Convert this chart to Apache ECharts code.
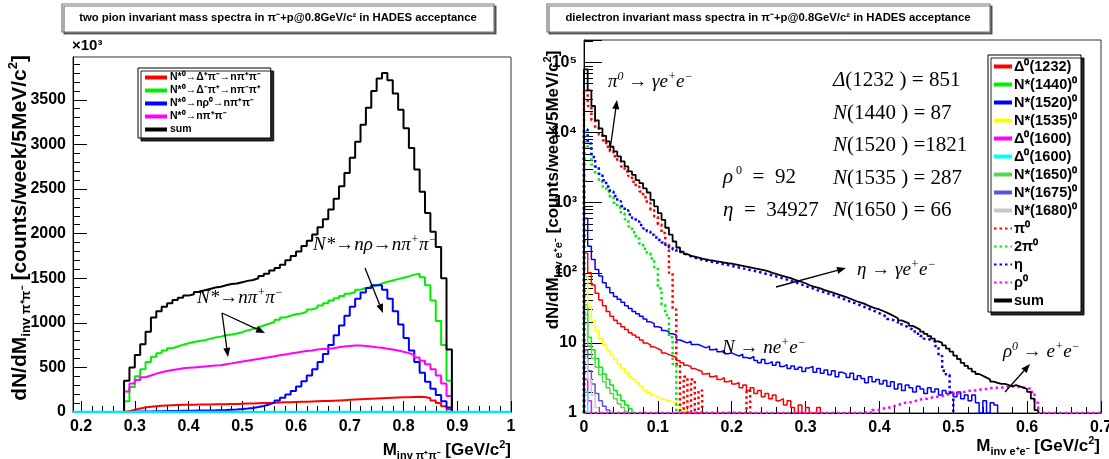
<!DOCTYPE html>
<html>
<head>
<meta charset="utf-8">
<script src="https://cdn.jsdelivr.net/npm/echarts@6/dist/echarts.min.js"></script>
<style>
  html, body { margin: 0; padding: 0; background: #fff; }
  #c { width: 1109px; height: 459px; }
</style>
</head>
<body>
<div id="c"></div>
<script>
// ---------------- two pion invariant mass (counts x10^3 per bin) ----------------
// 10 MeV bins, first bin starts at 0.28 GeV/c^2
const pipiStart = 0.28;
const pipiBin = 0.01;
const pipiDeltaPlus = [10,25,40,50,58,64,70,74,77,79, 80,81,82,83,84,85,86,87,88,89,
  90,92,94,96,98,100,102,104,106,108, 110,112,114,116,118,120,122,124,127,130,
  133,136,139,142,145,148,151,154,157,160, 162,164,166,168,170,168,155,130,100,65, 30];
const pipiDeltaMinus = [120,280,400,480,560,620,660,690,715,735, 755,770,785,795,805,820,835,845,860,870,
  880,895,915,930,950,970,990,1010,1035,1060, 1080,1095,1105,1125,1150,1170,1195,1220,1250,1275,
  1300,1325,1345,1370,1390,1400,1420,1440,1460,1475, 1490,1505,1520,1540,1550,1510,1420,1250,1020,750, 350];
const pipiRho = [0,3,5,6,7,8,9,10,11,12, 13,14,15,16,17,18,19,21,23,26,
  29,33,38,45,55,68,85,105,130,160, 195,235,285,345,410,480,560,650,750,860,
  970,1080,1180,1270,1340,1390,1420,1420,1370,1270, 1130,980,830,690,560,440,340,260,190,120, 50];
const pipiDirect = [230,320,360,390,410,430,445,460,470,480, 490,495,500,505,510,515,520,525,535,545,
  555,565,575,585,595,605,615,625,635,645, 655,665,675,685,690,700,705,710,715,725,
  735,740,745,745,740,735,725,720,710,700, 690,675,660,640,610,575,535,480,410,320, 180];
const pipiSum = [350,500,640,760,900,1060,1130,1180,1220,1255, 1280,1305,1320,1345,1365,1380,1395,1405,1420,1435,
  1440,1455,1470,1480,1500,1525,1550,1585,1615,1650, 1700,1750,1800,1860,1920,1990,2070,2160,2270,2390,
  2530,2680,2850,3030,3220,3410,3600,3740,3800,3720, 3570,3390,3180,2960,2720,2470,2230,2020,1850,1500, 700];
// empty histogram lying on the baseline over the full range
const pipiEmptyEdges = [0.185, 1.0];
const pipiEmptyValues = [0, 0];

const pipiKeys = ['pp_dp', 'pp_dm', 'pp_rho', 'pp_dir', 'pp_sum'];
const pipiLabels = ['N*⁰→Δ⁺π⁻→nπ⁺π⁻', 'N*⁰→Δ⁻π⁺→nπ⁻π⁺', 'N*⁰→nρ⁰→nπ⁺π⁻', 'N*⁰→nπ⁺π⁻', 'sum'];
const pipiColors = ['#ff0000', '#00ee00', '#0000ff', '#ff00ff', '#000000'];

const pipiXTicks = [0.2, 0.3, 0.4, 0.5, 0.6, 0.7, 0.8, 0.9, 1.0];
const pipiXTickLabels = ['0.2', '0.3', '0.4', '0.5', '0.6', '0.7', '0.8', '0.9', '1'];
const pipiYTicks = [0, 500, 1000, 1500, 2000, 2500, 3000, 3500];
const pipiYTickLabels = ['0', '500', '1000', '1500', '2000', '2500', '3000', '3500'];

// ---------------- dielectron invariant mass (counts per 5 MeV bin) ----------------
const eeStart = 0;
const eeBin = 0.005;
const eeD1232 = [190,100,67,51,41,34,28,24,21,19, 17,15.5,14,13,12,11,10,9.4,8.8,8.3,
  7.8,7.2,6.8,6.5,6.2,5.6,5.2,4.8,4.6,4.3, 4.1,3.9,3.6,3.7,3.3,3.4,3.0,3.2,2.8,2.9,
  2.6,2.7,2.3,2.5,2.1,2.3,1.9,2.1,1.7,1.9, 1.6,1.8,1.5,1.6,1.3,1.5,1.2,1.0,1.3,1.0, 1.2,1.0,1.0,1.2,1.0];
const eeN1440 = [35,12,8,6,4.5,3.6,3.0,2.5,2.1,1.8,1.5,1.3,1.15];
const eeN1520 = [600,240,155,112,90,72,62,52,46,42, 38,34,31,28,26,24,22,20,19,17,
  16.5,15,14.5,13.5,13,11,10.5,10,10.5,9.5, 9.5,9,8.5,9,8,8.2,7.5,7.8,7,7.2,
  6.8,6.5,6.9,6.2,6,6.4,5.6,5.2,5.8,5.1, 5.4,4.8,5.3,4.6,4.9,4.3,4.7,4.2,4.5,3.9,
  4.4,4.6,3.8,4.3,3.7,4.1,3.5,4.0,3.3,3.8, 3.6,3.2,3.7,3.0,3.4,3.1,2.7,3.3,2.8,3.0,
  2.6,2.9,2.4,2.8,2.2,2.6,2.1,2.5,2.3,2.0, 2.4,2.2,1.9,2.3,2.0,2.2,1.8,2.1,1.9,2.0,
  1.7,2.0,1.6,1.8,1.5,1.8,1.4,1.0,1.5,1.0, 1.4,1.3];
const eeN1535 = [90,33,21,15,11.5,9.5,8,6.8,5.8,5.0, 4.3,3.8,3.3,3.0,2.7,2.4,2.1,1.95,1.8,1.7,
  1.6,1.55,1.5,1.45,1.4,1.3,1.2,1.1];
const eeD1600a = [3,1.5];
const eeD1600b = [2];
const eeN1650 = [25,9,6,4.5,3.5,2.8,2.3,1.9,1.6,1.35,1.2,1.05];
const eeN1675 = [8,4,2.6,1.9,1.5,1.25,1.1];
const eeN1680 = [6,3,1.8,1.2];
const eePi0 = [40000,24000,15000,11500,9400,7800,6300,5400,4600,3900, 3300,2800,2400,2000,1700,1450,1200,1000,790,630,
  490,370,260,100,30,5,0,3.3,0,3.0, 0,2.1,0,0,0,0,0,0,0,0, 0,0,0,0,2.1];
const ee2Pi0 = [11000,6000,3500,2600,2000,1700,1450,1200,1000,850, 700,580,460,380,310,260,220,190,160,120,
  60,35,25,12,5];
const eeEta = [11000,7000,4500,3300,2600,2100,1700,1450,1250,1050, 900,780,680,600,540,480,430,390,350,320,
  295,270,250,230,215,200,190,180,172,165, 160,154,150,146,142,139,136,132,129,126,
  122,119,116,113,110,107,104,101,98,95, 92,89,86,83,80,77,74,71,68,65,
  62,60,57,55,53,51,49,47,45,43, 41,39,37.5,36,34,32.5,31,29.5,28,26.5,
  25,23.5,22,21,20,18.5,17.5,16.5,15.5,14.5, 13.5,12.5,11.5,11,10.5,9,6.5,4,3.5,2];
const eeRho0 = [0,0,0,0,0,0,0,0,0,0, 0,0,0,0,0,0,0,0,0,0,
  0,0,0,0,0,0,0,0,0,0, 0,0,0,0,0,0,0,0,0,0,
  0,0,0,0,0,0,0,0,0,0, 0,0,0,0,0,0,0,0,0,0,
  0,0,0,0,0,0,0,0,0,0, 0,0,0,0,0,0,
  1.05,1.0,1.1,1.1,1.15,1.2,1.2,1.25,1.3,1.35, 1.4,1.4,1.45,1.5,1.55,1.6,1.6,1.65,1.7,1.7,
  1.75,1.8,1.85,1.9,1.9,1.95,2.0,2.05,2.1,2.1, 2.15,2.2,2.2,2.25,2.3,2.3,2.3,2.35,2.35,2.4,
  2.4,2.35,2.3,2.3,2.2,2.0,1.4,
  0,0,0,0,0,0,0,0,0,0, 0,0,0,0,0,0,0];
const eeSum = [80000,40000,24000,15000,11500,9000,7500,6300,5400,4600,
  3900,3300,2800,2500,2100,1900,1600,1400,1100,890, 710,570,440,350,280,230,200,185,175,170,
  165,160,156,152,149,146,143,140,137,135, 132,129,126,123,120,117,114,111,108,105,
  100,97,93,90,87,84,80,77,74,71, 67,64,62,60,57,55,53,51,49,47,
  45,43,41,39,37.5,36,34,32.5,31,30, 28.5,27,25.5,24,22.5,21,20,19,17.5,16.5,
  15.5,14.5,13.5,12.5,11.5,10.5,10,9.2,8.3,7.5, 6.6,5.9,5.2,4.7,4.3,3.9,3.6,3.4,3.2,3.0,
  2.8,2.7,2.6,2.6,2.5,2.4,2.5,2.4,2.3,2.2, 2.0,1.6,1.1];

const eeKeys = ['d1232', 'n1440', 'n1520', 'n1535', 'd1600a', 'd1600b', 'n1650', 'n1675', 'n1680', 'pi0', 'twopi0', 'eta', 'rho0', 'ee_sum'];
const eeLabels = ['Δ⁰(1232)', 'N*(1440)⁰', 'N*(1520)⁰', 'N*(1535)⁰', 'Δ⁰(1600)', 'Δ⁰(1600)', 'N*(1650)⁰', 'N*(1675)⁰', 'N*(1680)⁰', 'π⁰', '2π⁰', 'η', 'ρ⁰', 'sum'];
const eeValues = [eeD1232, eeN1440, eeN1520, eeN1535, eeD1600a, eeD1600b, eeN1650, eeN1675, eeN1680, eePi0, ee2Pi0, eeEta, eeRho0, eeSum];
const eeColors = ['#ff0000', '#00ee00', '#0000ff', '#ffff00', '#ff00ff', '#00ffff', '#59d454', '#5954d9', '#c8c8c8', '#ff0000', '#00ee00', '#0000ff', '#ff00ff', '#000000'];
const eeDotted = [false, false, false, false, false, false, false, false, false, true, true, true, true, false];

const eeXTicks = [0, 0.1, 0.2, 0.3, 0.4, 0.5, 0.6, 0.7];
const eeXTickLabels = ['0', '0.1', '0.2', '0.3', '0.4', '0.5', '0.6', '0.7'];
const eeYTickLabels = ['1', '10', '10²', '10³', '10⁴', '10⁵'];

// ---------------- helpers ----------------
const SANS = '"Liberation Sans", Arial, Helvetica, sans-serif';
const SERIF = '"Liberation Serif", "Times New Roman", serif';

// histogram outline: each bin is held flat, with drops to the floor at both ends
function histPoints(start, width, values, floor) {
  const pts = [[start, floor]];
  values.forEach(function (v, i) {
    pts.push([+(start + i * width).toFixed(5), Math.max(v, floor)]);
  });
  pts.push([+(start + values.length * width).toFixed(5), floor]);
  return pts;
}
function minorBetween(majors, step, lo, hi) {
  const out = [];
  for (let v = lo; v <= hi + 1e-9; v += step) {
    const r = +v.toFixed(5);
    if (!majors.some(function (m) { return Math.abs(m - r) < 1e-7; })) out.push(r);
  }
  return out;
}
function labelFor(values, labels) {
  return function (v) {
    const i = values.findIndex(function (t) { return Math.abs(t - v) < 1e-7; });
    return i < 0 ? '' : labels[i];
  };
}

const labelOf = {};
pipiKeys.forEach(function (k, i) { labelOf[k] = pipiLabels[i]; });
eeKeys.forEach(function (k, i) { labelOf[k] = eeLabels[i]; });

const X_MIN_L = 0.185, X_MAX_L = 1.0, Y_MAX_L = 3980;
const X_MIN_R = 0, X_MAX_R = 0.7, Y_MIN_R = 1, Y_MAX_R = 210000;

const pipiXMinor = minorBetween(pipiXTicks, 0.02, 0.2, 1.0);
const pipiYMinor = minorBetween(pipiYTicks, 100, 0, 3900);
const eeXMinor = minorBetween(eeXTicks, 0.02, 0, 0.7);
// minor ticks of the log axis, in decades (linear helper axis)
const eeYMinorDecades = [];
for (let d = 0; d <= 5; d++) {
  for (let k = 2; k <= 9; k++) {
    const lv = d + Math.log10(k);
    if (lv < Math.log10(Y_MAX_R)) eeYMinorDecades.push(lv);
  }
}

const axisLabelStyle = { fontFamily: SANS, fontWeight: 'bold', fontSize: 16, color: '#000' };
const tickLine = { color: '#000', width: 1 };

const series = [];
const pipiValues = [pipiDeltaPlus, pipiDeltaMinus, pipiRho, pipiDirect, pipiSum];
pipiKeys.forEach(function (k, i) {
  series.push({
    name: k, type: 'line', xAxisIndex: 0, yAxisIndex: 0, step: 'end', symbol: 'none',
    silent: true, animation: false,
    data: histPoints(pipiStart, pipiBin, pipiValues[i], 0),
    lineStyle: { color: pipiColors[i], width: 2 },
    itemStyle: { color: pipiColors[i] }
  });
});
series.push({
  name: 'pp_empty', type: 'line', xAxisIndex: 0, yAxisIndex: 0, symbol: 'none', silent: true,
  data: pipiEmptyEdges.map(function (x, i) { return [x, pipiEmptyValues[i]]; }),
  lineStyle: { color: '#00e5ff', width: 2.5 }, itemStyle: { color: '#00e5ff' }, z: 3
});
eeKeys.forEach(function (k, i) {
  series.push({
    name: k, type: 'line', xAxisIndex: 2, yAxisIndex: 2, step: 'end', symbol: 'none',
    silent: true, animation: false,
    data: histPoints(eeStart, eeBin, eeValues[i], Y_MIN_R),
    lineStyle: eeDotted[i]
      ? { color: eeColors[i], width: 2.5, type: [2.5, 3] }
      : { color: eeColors[i], width: k === 'ee_sum' ? 1.8 : 1.5 },
    itemStyle: { color: eeColors[i] },
    z: k === 'ee_sum' ? 4 : 2
  });
});

// annotation arrows
function arrow(x1, y1, x2, y2) {
  const a = Math.atan2(y2 - y1, x2 - x1), L = 9, W = 3.5;
  const bx = x2 - L * Math.cos(a), by = y2 - L * Math.sin(a);
  return [
    { type: 'line', silent: true, z: 100, shape: { x1: x1, y1: y1, x2: bx, y2: by }, style: { stroke: '#000', lineWidth: 1.3 } },
    { type: 'polygon', silent: true, z: 100, shape: { points: [[x2, y2], [bx - W * Math.sin(a), by + W * Math.cos(a)], [bx + W * Math.sin(a), by - W * Math.cos(a)]] }, style: { fill: '#000' } }
  ];
}
function txt(x, y, text, rich, extra) {
  return Object.assign({
    type: 'text', silent: true, z: 100, x: x, y: y,
    style: { text: text, rich: rich, textVerticalAlign: 'middle', verticalAlign: 'middle', fill: '#000' }
  }, extra || {});
}
function richTitle(size, sub) {
  return {
    a: { fontFamily: SANS, fontWeight: 'bold', fontSize: size, lineHeight: size + 5 },
    s: { fontFamily: SANS, fontWeight: 'bold', fontSize: sub, lineHeight: sub, verticalAlign: 'bottom' },
    p: { fontFamily: SANS, fontWeight: 'bold', fontSize: sub, lineHeight: sub, verticalAlign: 'top' }
  };
}
const bigTitleRich = richTitle(21, 13);
const titleRich = richTitle(17, 11);
const ann = {
  t: { fontFamily: SERIF, fontSize: 21, fontStyle: 'italic', lineHeight: 25 },
  n: { fontFamily: SERIF, fontSize: 21, lineHeight: 25 },
  u: { fontFamily: SERIF, fontSize: 12, lineHeight: 12, verticalAlign: 'top' },
  ti: { fontFamily: SERIF, fontSize: 19, fontStyle: 'italic', lineHeight: 23 },
  ui: { fontFamily: SERIF, fontSize: 12, fontStyle: 'italic', lineHeight: 12, verticalAlign: 'top' }
};
function centered(text, font) {
  return { text: text, font: font, textAlign: 'center', align: 'center', textVerticalAlign: 'middle', verticalAlign: 'middle', fill: '#000' };
}
function richStyle(text, rich, align) {
  return { text: text, rich: rich, textAlign: align, align: align, textVerticalAlign: 'middle', verticalAlign: 'middle', fill: '#000' };
}

const graphics = [
  // panel titles
  { type: 'rect', silent: true, z: 50, shape: { x: 62, y: 4, width: 432, height: 28 },
    style: { fill: '#fff', stroke: '#777', lineWidth: 1.2, shadowColor: 'rgba(0,0,0,0.55)', shadowOffsetX: 2, shadowOffsetY: 2, shadowBlur: 0 } },
  { type: 'text', silent: true, z: 100, x: 278, y: 18,
    style: centered('two pion invariant mass spectra in π⁻+p@0.8GeV/c² in HADES acceptance', 'bold 11.3px ' + SANS) },
  { type: 'rect', silent: true, z: 50, shape: { x: 547, y: 4, width: 443, height: 28 },
    style: { fill: '#fff', stroke: '#777', lineWidth: 1.2, shadowColor: 'rgba(0,0,0,0.55)', shadowOffsetX: 2, shadowOffsetY: 2, shadowBlur: 0 } },
  { type: 'text', silent: true, z: 100, x: 768, y: 18,
    style: centered('dielectron invariant mass spectra in π⁻+p@0.8GeV/c² in HADES acceptance', 'bold 11.3px ' + SANS) },
  // axis exponent
  { type: 'text', silent: true, z: 100, x: 72, y: 46,
    style: { text: '×10³', font: 'bold 15px ' + SANS, fill: '#000', textVerticalAlign: 'middle', verticalAlign: 'middle' } },
  // axis titles
  { type: 'text', silent: true, z: 100, x: 20, y: 228, rotation: Math.PI / 2,
    style: richStyle('{a|dN/dM}{s|inv π⁺π⁻}{a| [counts/week/5MeV/c}{p|2}{a|]}', bigTitleRich, 'center') },
  { type: 'text', silent: true, z: 100, x: 553, y: 190, rotation: Math.PI / 2,
    style: richStyle('{a|dN/dM}{s|inv e⁺e⁻}{a| [counts/week/5MeV/c}{p|2}{a|]}', titleRich, 'center') },
  { type: 'text', silent: true, z: 100, x: 511, y: 450,
    style: richStyle('{a|M}{s|inv π⁺π⁻}{a| [GeV/c}{p|2}{a|]}', titleRich, 'right') },
  { type: 'text', silent: true, z: 100, x: 1100, y: 446,
    style: richStyle('{a|M}{s|inv e⁺e⁻}{a| [GeV/c}{p|2}{a|]}', titleRich, 'right') },
  // two pion annotations
  txt(313, 245, '{ti|N*→nρ→nπ}{ui|+}{ti|π}{ui|−}', ann),
  txt(197, 298, '{ti|N*→nπ}{ui|+}{ti|π}{ui|−}', ann),
  // dielectron annotations
  txt(833, 80, '{t|Δ}{n|(1232 ) = 851}', ann),
  txt(833, 113, '{t|N}{n|(1440 ) = 87}', ann),
  txt(833, 145, '{t|N}{n|(1520 ) =1821}', ann),
  txt(833, 178, '{t|N}{n|(1535 ) = 287}', ann),
  txt(833, 210, '{t|N}{n|(1650 ) = 66}', ann),
  txt(723, 177, '{t|ρ}{u| 0}{n|  =  92}', ann),
  txt(723, 210, '{t|η}{n|  =  34927}', ann),
  txt(608, 82, '{ti|π}{ui|0}{ti| → γe}{ui|+}{ti|e}{ui|−}', ann),
  txt(857, 270, '{ti|η → γe}{ui|+}{ti|e}{ui|−}', ann),
  txt(722, 348, '{ti|N → ne}{ui|+}{ti|e}{ui|−}', ann),
  txt(1003, 352, '{ti|ρ}{ui|0}{ti| → e}{ui|+}{ti|e}{ui|−}', ann)
].concat(
  arrow(365, 268, 383, 313),
  arrow(222, 313, 265, 333),
  arrow(222, 313, 228, 357),
  arrow(610, 150, 617, 100),
  arrow(776, 287, 846, 268),
  arrow(1005, 392, 1030, 364)
);

const option = {
  animation: false,
  backgroundColor: '#ffffff',
  grid: [
    { left: 73, top: 57, width: 438, height: 355, show: true, borderColor: '#333', borderWidth: 1, backgroundColor: 'transparent', outerBoundsMode: 'none' },
    { left: 584, top: 40, width: 517, height: 373, show: true, borderColor: '#333', borderWidth: 1, backgroundColor: 'transparent', outerBoundsMode: 'none' }
  ],
  xAxis: [
    { gridIndex: 0, type: 'value', position: 'bottom', min: X_MIN_L, max: X_MAX_L,
      axisLine: { lineStyle: { color: '#000', width: 1 } },
      axisTick: { inside: true, length: 11, customValues: pipiXTicks, lineStyle: tickLine },
      axisLabel: Object.assign({ customValues: pipiXTicks, margin: 7, formatter: labelFor(pipiXTicks, pipiXTickLabels) }, axisLabelStyle),
      splitLine: { show: false } },
    { gridIndex: 0, type: 'value', position: 'bottom', min: X_MIN_L, max: X_MAX_L,
      axisLine: { show: false },
      axisTick: { inside: true, length: 6, customValues: pipiXMinor, lineStyle: tickLine },
      axisLabel: { show: false }, splitLine: { show: false } },
    { gridIndex: 1, type: 'value', position: 'bottom', min: X_MIN_R, max: X_MAX_R,
      axisLine: { lineStyle: { color: '#000', width: 1 } },
      axisTick: { inside: true, length: 12, customValues: eeXTicks, lineStyle: tickLine },
      axisLabel: Object.assign({ customValues: eeXTicks, margin: 7, formatter: labelFor(eeXTicks, eeXTickLabels) }, axisLabelStyle),
      splitLine: { show: false } },
    { gridIndex: 1, type: 'value', position: 'bottom', min: X_MIN_R, max: X_MAX_R,
      axisLine: { show: false },
      axisTick: { inside: true, length: 6, customValues: eeXMinor, lineStyle: tickLine },
      axisLabel: { show: false }, splitLine: { show: false } }
  ],
  yAxis: [
    { gridIndex: 0, type: 'value', position: 'left', min: 0, max: Y_MAX_L,
      axisLine: { show: true, lineStyle: { color: '#000', width: 1 } },
      axisTick: { show: true, inside: true, length: 14, customValues: pipiYTicks, lineStyle: tickLine },
      axisLabel: Object.assign({ customValues: pipiYTicks, margin: 7, formatter: labelFor(pipiYTicks, pipiYTickLabels) }, axisLabelStyle),
      splitLine: { show: false } },
    { gridIndex: 0, type: 'value', position: 'left', min: 0, max: Y_MAX_L,
      axisLine: { show: false },
      axisTick: { show: true, inside: true, length: 7, customValues: pipiYMinor, lineStyle: tickLine },
      axisLabel: { show: false }, splitLine: { show: false } },
    { gridIndex: 1, type: 'log', logBase: 10, position: 'left', min: Y_MIN_R, max: Y_MAX_R,
      axisLine: { show: true, lineStyle: { color: '#000', width: 1 } },
      axisTick: { show: true, inside: true, length: 18, lineStyle: tickLine },
      axisLabel: Object.assign({ margin: 7, formatter: function (v) {
        const e = Math.round(Math.log10(v));
        return Math.abs(Math.log10(v) - e) < 1e-6 && e >= 0 && e < eeYTickLabels.length ? eeYTickLabels[e] : '';
      } }, axisLabelStyle),
      splitLine: { show: false }, minorTick: { show: false } },
    { gridIndex: 1, type: 'value', position: 'left', min: 0, max: Math.log10(Y_MAX_R),
      axisLine: { show: false },
      axisTick: { show: true, inside: true, length: 9, customValues: eeYMinorDecades, lineStyle: tickLine },
      axisLabel: { show: false }, splitLine: { show: false } }
  ],
  legend: [
    { left: 138, top: 68, orient: 'vertical', selectedMode: false, data: pipiKeys,
      formatter: function (n) { return labelOf[n]; },
      itemWidth: 22, itemHeight: 8, itemGap: 2, padding: [4, 10, 3, 5],
      backgroundColor: '#fff', borderColor: '#000', borderWidth: 1,
      shadowColor: 'rgba(0,0,0,0.85)', shadowOffsetX: 3, shadowOffsetY: 3, shadowBlur: 0,
      lineStyle: { width: 4 }, itemStyle: { opacity: 0 },
      textStyle: { fontFamily: SANS, fontWeight: 'bold', fontSize: 10.5, color: '#000', padding: [0, 0, 0, -2] } },
    { left: 988, top: 55, orient: 'vertical', selectedMode: false,
      data: eeKeys.map(function (k, i) { return eeDotted[i] ? { name: k } : { name: k, lineStyle: { width: 4 } }; }),
      formatter: function (n) { return labelOf[n]; },
      itemWidth: 18, itemHeight: 10, itemGap: 3, padding: [4, 4, 4, 4],
      backgroundColor: '#fff', borderColor: '#000', borderWidth: 1,
      shadowColor: 'rgba(0,0,0,0.85)', shadowOffsetX: 3, shadowOffsetY: 3, shadowBlur: 0,
      itemStyle: { opacity: 0 },
      textStyle: { fontFamily: SANS, fontWeight: 'bold', fontSize: 14.5, color: '#000', padding: [0, 0, 0, -3] } }
  ],
  graphic: { elements: graphics },
  series: series
};

const chart = echarts.init(document.getElementById('c'), null, { renderer: 'canvas' });
chart.setOption(option);
</script>
</body>
</html>
